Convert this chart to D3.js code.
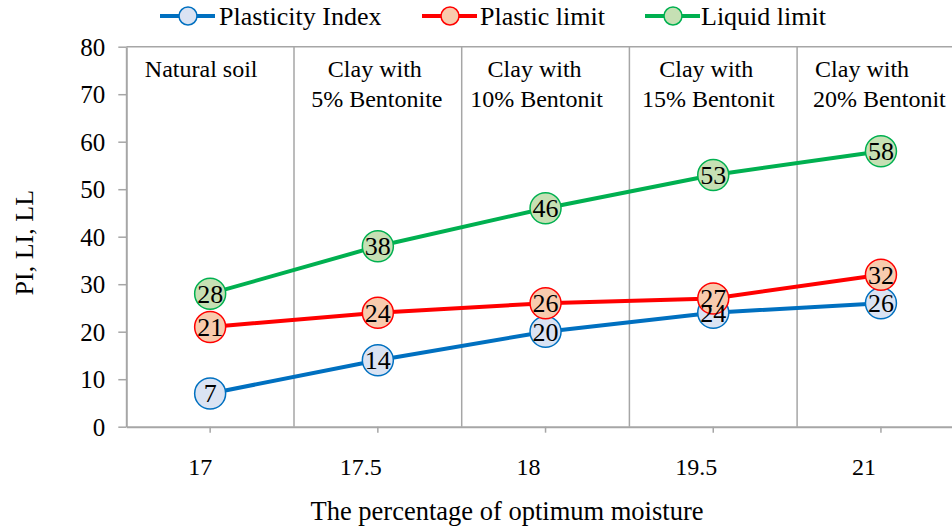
<!DOCTYPE html>
<html>
<head>
<meta charset="utf-8">
<script src="https://cdn.jsdelivr.net/npm/d3@7"></script>
<style>
  html, body { margin: 0; padding: 0; background: #fff; }
  svg { display: block; font-family: "Liberation Serif", "Times New Roman", serif; }
</style>
</head>
<body>
<svg id="chart" width="952" height="529"></svg>
<script>
// Moisture content categories (x axis)
const categories = ["17", "17.5", "18", "19.5", "21"];

// Atterberg limits for each mix
const plasticityIndex = [7, 14, 20, 24, 26];
const plasticLimit = [21, 24, 26, 27, 32];
const liquidLimit = [28, 38, 46, 53, 58];

// Y axis tick values
const yTicks = [0, 10, 20, 30, 40, 50, 60, 70, 80];

// Soil mix written in each band
const zoneLabels = [
  ["Natural soil"],
  ["Clay with", "5% Bentonite"],
  ["Clay with", "10% Bentonit"],
  ["Clay with", "15% Bentonit"],
  ["Clay with", "20% Bentonit"]
];

const seriesNames = ["Plasticity Index", "Plastic limit", "Liquid limit"];
const seriesValues = [plasticityIndex, plasticLimit, liquidLimit];

// ---- styling / layout ----
const FONT = "Liberation Serif";
const lineColors = ["#0070c0", "#ff0000", "#00b050"];
const fillColors = ["#dae3f3", "#f8cbad", "#c6e0b4"];
const gridGray = "#a6a6a6";

const plotLeft = 126.3, plotRight = 964.8, plotTop = 46.7, plotBottom = 426.7;

const svg = d3.select("#chart");
svg.append("rect").attr("width", 952).attr("height", 529).attr("fill", "#fff");

const x = d3.scaleBand().domain(categories).range([plotLeft, plotRight]).paddingInner(0).paddingOuter(0);
const y = d3.scaleLinear().domain([0, 80]).range([plotBottom, plotTop]);
const cx = c => x(c) + x.bandwidth() / 2;

// band separators
svg.append("g").selectAll("line")
  .data(categories.slice(1))
  .join("line")
  .attr("x1", d => x(d)).attr("x2", d => x(d))
  .attr("y1", y(80)).attr("y2", y(0))
  .attr("stroke", gridGray).attr("stroke-width", 1.5);

// top border
svg.append("line")
  .attr("x1", plotLeft).attr("x2", plotRight)
  .attr("y1", y(80)).attr("y2", y(80))
  .attr("stroke", gridGray).attr("stroke-width", 1.5);

// right border
svg.append("line")
  .attr("x1", plotRight).attr("x2", plotRight)
  .attr("y1", y(80)).attr("y2", y(0))
  .attr("stroke", gridGray).attr("stroke-width", 1.5);

// y axis
const yAxis = svg.append("g")
  .attr("transform", `translate(${plotLeft},0)`)
  .attr("font-family", FONT)
  .call(d3.axisLeft(y).tickValues(yTicks).tickSize(8).tickSizeOuter(0).tickPadding(13));
yAxis.attr("font-family", FONT);
yAxis.select(".domain").attr("stroke", gridGray).attr("stroke-width", 2);
yAxis.selectAll(".tick line").attr("stroke", gridGray).attr("stroke-width", 1.5);
yAxis.selectAll(".tick text")
  .attr("fill", "#000").attr("font-size", 25)
  .attr("font-family", FONT).attr("dy", "0.34em");

// x axis
const xAxis = svg.append("g")
  .attr("transform", `translate(0,${plotBottom})`)
  .call(d3.axisBottom(x).tickSize(6).tickSizeOuter(0).tickPadding(25));
xAxis.attr("font-family", FONT);
xAxis.select(".domain").attr("stroke", gridGray).attr("stroke-width", 2);
xAxis.selectAll(".tick line").attr("stroke", gridGray).attr("stroke-width", 1.5);
xAxis.selectAll(".tick text")
  .attr("fill", "#000").attr("font-size", 24)
  .attr("font-family", FONT)
  .attr("dx", (d, i) => i === 0 ? -10 : -17);

// band captions
const zoneNudge = [-9, -1, -9, -5, -3];
zoneLabels.forEach((lines, i) => {
  const c = categories[i];
  const last = i === zoneLabels.length - 1;
  const t = svg.append("text")
    .attr("font-size", 24).attr("fill", "#000")
    .attr("text-anchor", last ? "start" : "middle");
  lines.forEach((ln, j) => {
    const xPos = last
      ? x(c) + 16 + (j === 0 ? 2 : 0)
      : cx(c) + zoneNudge[i] + (j === 0 && lines.length > 1 ? -2 : 0);
    t.append("tspan").attr("x", xPos).attr("y", 77 + j * 30).text(ln);
  });
});

// series lines and markers
const line = d3.line().x((d, i) => cx(categories[i])).y(d => y(d));
seriesValues.forEach((vals, s) => {
  svg.append("path")
    .datum(vals)
    .attr("d", line)
    .attr("fill", "none")
    .attr("stroke", lineColors[s])
    .attr("stroke-width", 4)
    .attr("stroke-linejoin", "round");
  svg.append("g").selectAll("circle")
    .data(vals)
    .join("circle")
    .attr("cx", (d, i) => cx(categories[i]))
    .attr("cy", d => y(d))
    .attr("r", 15.5)
    .attr("fill", fillColors[s])
    .attr("stroke", lineColors[s])
    .attr("stroke-width", 1.5);
});

// value labels on top of all markers
seriesValues.forEach((vals) => {
  svg.append("g").selectAll("text")
    .data(vals)
    .join("text")
    .attr("x", (d, i) => cx(categories[i]))
    .attr("y", d => y(d))
    .attr("dy", "0.34em")
    .attr("text-anchor", "middle")
    .attr("font-size", 26)
    .attr("fill", "#000")
    .text(d => d);
});

// axis titles
svg.append("text")
  .attr("x", 507).attr("y", 520)
  .attr("text-anchor", "middle")
  .attr("font-size", 26.5).attr("fill", "#000")
  .text("The percentage of optimum moisture");

svg.append("text")
  .attr("transform", `translate(33,${(plotTop + plotBottom) / 2 + 6}) rotate(-90)`)
  .attr("text-anchor", "middle")
  .attr("font-size", 26).attr("fill", "#000")
  .text("PI, LI, LL");

// legend
const legendItems = [
  { x: 160, tx: 219 },
  { x: 422, tx: 480 },
  { x: 645, tx: 701 }
];
const legend = svg.append("g");
seriesNames.forEach((name, s) => {
  const it = legendItems[s];
  const g = legend.append("g");
  g.append("line")
    .attr("x1", it.x).attr("x2", it.x + 55)
    .attr("y1", 16).attr("y2", 16)
    .attr("stroke", lineColors[s]).attr("stroke-width", 4);
  g.append("circle")
    .attr("cx", it.x + 28).attr("cy", 16).attr("r", 9)
    .attr("fill", fillColors[s]).attr("stroke", lineColors[s]).attr("stroke-width", 1.5);
  g.append("text")
    .attr("x", it.tx).attr("y", 25)
    .attr("font-size", 26).attr("fill", "#000")
    .text(name);
});
</script>
</body>
</html>
